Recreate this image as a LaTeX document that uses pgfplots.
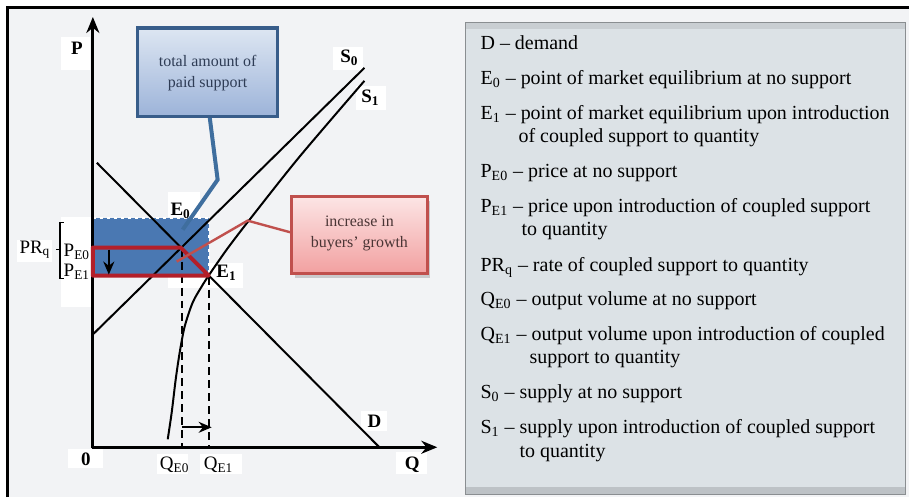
\documentclass[border=0pt]{standalone}
\usepackage{fontspec}
\setmainfont{Liberation Serif}
\usepackage{pgfplots}
\pgfplotsset{compat=1.18}
\usetikzlibrary{arrows.meta}
\definecolor{bgc}{HTML}{F2F3F5}
\definecolor{legbg}{HTML}{DCE2E6}
\definecolor{legbd}{HTML}{8A8E91}
\definecolor{legtop}{HTML}{C9CED2}
\definecolor{legbot}{HTML}{BDC2C6}
\definecolor{bluefill}{HTML}{4A78B2}
\definecolor{redline}{HTML}{B31F29}
\definecolor{bbord}{HTML}{385D8A}
\definecolor{btop}{HTML}{DDE6F2}
\definecolor{bbot}{HTML}{9CB3D9}
\definecolor{bptr}{HTML}{3F6E9E}
\definecolor{btext}{HTML}{2E3C55}
\definecolor{rbord}{HTML}{C0504D}
\definecolor{rtop}{HTML}{FCE5E5}
\definecolor{rbot}{HTML}{F2A0A0}
\definecolor{rtext}{HTML}{4A3535}
\newcommand{\lbl}{\fontsize{9.5}{11}\selectfont\bfseries}
\newcommand{\sml}{\fontsize{9.5}{11}\selectfont}
\newcommand{\call}{\fontsize{8}{10.5}\selectfont}
\newcommand{\legf}{\fontsize{10}{12}\selectfont}
\begin{document}
\begin{tikzpicture}
\begin{axis}[
  scale only axis, width=455pt, height=249pt,
  xmin=0, xmax=910, ymin=0, ymax=498, y dir=reverse,
  hide axis, clip=false,
]
% page and panel backgrounds
\addplot[fill=white, draw=none] coordinates {(0,0)(910,0)(910,498)(0,498)} -- cycle;
\addplot[fill=bgc, draw=none] coordinates {(8,8)(910,8)(910,498)(8,498)} -- cycle;
\addplot[black, line width=1.5pt] coordinates {(8,498)(8,8)(910,8)};
% legend box
\addplot[fill=legbg, draw=legbd, line width=0.6pt] coordinates {(466,23)(907,23)(907,495)(466,495)} -- cycle;
\addplot[fill=legtop, draw=none] coordinates {(466.5,23.5)(906.5,23.5)(906.5,29)(466.5,29)} -- cycle;
\addplot[fill=legbot, draw=none] coordinates {(466.5,488)(906.5,488)(906.5,494.5)(466.5,494.5)} -- cycle;
% white label backgrounds
\addplot[fill=white, draw=none] coordinates {(61,37)(90,37)(90,70)(61,70)} -- cycle;
\addplot[fill=white, draw=none] coordinates {(334,47)(364,47)(364,70)(334,70)} -- cycle;
\addplot[fill=white, draw=none] coordinates {(357,86)(387,86)(387,110)(357,110)} -- cycle;
\addplot[fill=white, draw=none] coordinates {(168,192)(200,192)(200,217)(168,217)} -- cycle;
\addplot[fill=white, draw=none] coordinates {(168,263)(243,263)(243,288)(168,288)} -- cycle;
\addplot[fill=white, draw=none] coordinates {(362,412)(388,412)(388,432)(362,432)} -- cycle;
\addplot[fill=white, draw=none] coordinates {(68,450)(103,450)(103,469)(68,469)} -- cycle;
\addplot[fill=white, draw=none] coordinates {(157,455)(188,455)(188,475)(157,475)} -- cycle;
\addplot[fill=white, draw=none] coordinates {(200,455)(242,455)(242,475)(200,475)} -- cycle;
\addplot[fill=white, draw=none] coordinates {(397,453)(428,453)(428,475)(397,475)} -- cycle;
\addplot[fill=white, draw=none] coordinates {(17,240)(52,240)(52,262)(17,262)} -- cycle;
\addplot[fill=white, draw=none] coordinates {(61,217)(91,217)(91,307)(61,307)} -- cycle;
% blue area: total amount of paid support
\addplot[fill=bluefill, draw=none] coordinates {(93,218)(209,218)(209,276)(93,276)} -- cycle;
\addplot[white, line width=0.9pt, dash pattern=on 1.5pt off 2pt] coordinates {(93,218)(209,218)(209,276)};
% dashed drop lines
\addplot[black, line width=1pt, dash pattern=on 4pt off 2.5pt] coordinates {(182,249)(182,447)};
\addplot[black, line width=1pt, dash pattern=on 4pt off 2.5pt] coordinates {(209,277)(209,447)};
% demand D
\addplot[black, line width=1pt] coordinates {(97,163)(380,448)};
% supply S0
\addplot[black, line width=1pt] coordinates {(93,335)(365,68)};
% supply S1
\addplot[black, line width=1pt, smooth] coordinates {(168,440)(172,413)(176,380)(180,353)(185,327)(193,303)(202,287)(209,276)(220,260)(230,246)(250,220)(300,157)(365,81)};
% axes
\addplot[black, line width=1.6pt, -{Stealth[length=8pt,width=6.5pt]}] coordinates {(93,449)(93,17)};
\addplot[black, line width=1.6pt, -{Stealth[length=8pt,width=6.5pt]}] coordinates {(92,448)(438,448)};
% red polygon: increase in buyers' growth
\addplot[redline, line width=2pt, line join=round] coordinates {(93,248)(181,248)(209,276)(93,276)} -- cycle;
% arrows
\addplot[black, line width=1pt, -{Stealth[length=6.5pt,width=5.5pt]}] coordinates {(109,250)(109,275)};
\addplot[black, line width=1pt, -{Stealth[length=6.5pt,width=5.5pt]}] coordinates {(182,428)(212,428)};
% bracket
\addplot[black, line width=0.6pt] coordinates {(64,223)(60,223)(60,279)(64,279)};
\addplot[black, line width=0.6pt] coordinates {(60,250)(56,250)};
% blue callout
\addplot[bptr, line width=2pt] coordinates {(210,117)(218,180)(183,230)};
\addplot[draw=bbord, line width=1.6pt, top color=btop, bottom color=bbot] coordinates {(138,28)(278,28)(278,117)(138,117)} -- cycle;
% red callout
\addplot[rbord, line width=1.2pt] coordinates {(292,233)(248,221)(177,262)};
\addplot[fill=gray, fill opacity=0.35, draw=none] coordinates {(295,201)(431,201)(431,278)(295,278)} -- cycle;
\addplot[draw=rbord, line width=1.5pt, top color=rtop, bottom color=rbot] coordinates {(292,197)(428,197)(428,274)(292,274)} -- cycle;
% callout texts
\node[font=\call, text=btext, align=center, inner sep=0pt] at (208,73) {total amount of\\paid support};
\node[font=\call, text=rtext, align=center, inner sep=0pt] at (360,234) {increase in\\buyers’ growth};
% plot labels
\node[font=\lbl, inner sep=0pt] at (77,48) {P};
\node[font=\lbl, inner sep=0pt] at (350,58) {S\textsubscript{0}};
\node[font=\lbl, inner sep=0pt] at (371,98) {S\textsubscript{1}};
\node[font=\lbl, inner sep=0pt] at (181,211) {E\textsubscript{0}};
\node[font=\lbl, inner sep=0pt] at (227,273) {E\textsubscript{1}};
\node[font=\lbl, inner sep=0pt] at (375,422) {D};
\node[font=\lbl, inner sep=0pt] at (86,460) {0};
\node[font=\lbl, inner sep=0pt] at (413,466) {Q};
\node[font=\sml, inner sep=0pt] at (175,466) {Q\textsubscript{E0}};
\node[font=\sml, inner sep=0pt] at (219,466) {Q\textsubscript{E1}};
\node[font=\sml, inner sep=0pt] at (35,250) {PR\textsubscript{q}};
\node[font=\sml, inner sep=0pt] at (77,252) {P\textsubscript{E0}};
\node[font=\sml, inner sep=0pt] at (77,272) {P\textsubscript{E1}};
% legend texts
\node[font=\legf, anchor=base west, inner sep=0pt] at (481,50) {D -- demand};
\node[font=\legf, anchor=base west, inner sep=0pt] at (481,85) {E\textsubscript{0} -- point of market equilibrium at no support};
\node[font=\legf, anchor=base west, inner sep=0pt] at (481,120) {E\textsubscript{1} -- point of market equilibrium upon introduction};
\node[font=\legf, anchor=base west, inner sep=0pt] at (519,143) {of coupled support to quantity};
\node[font=\legf, anchor=base west, inner sep=0pt] at (481,178) {P\textsubscript{E0} -- price at no support};
\node[font=\legf, anchor=base west, inner sep=0pt] at (481,213) {P\textsubscript{E1} -- price upon introduction of coupled support};
\node[font=\legf, anchor=base west, inner sep=0pt] at (522,236) {to quantity};
\node[font=\legf, anchor=base west, inner sep=0pt] at (481,272) {PR\textsubscript{q} -- rate of coupled support to quantity};
\node[font=\legf, anchor=base west, inner sep=0pt] at (481,306) {Q\textsubscript{E0} -- output volume at no support};
\node[font=\legf, anchor=base west, inner sep=0pt] at (481,341) {Q\textsubscript{E1} -- output volume upon introduction of coupled};
\node[font=\legf, anchor=base west, inner sep=0pt] at (530,364) {support to quantity};
\node[font=\legf, anchor=base west, inner sep=0pt] at (481,399) {S\textsubscript{0} -- supply at no support};
\node[font=\legf, anchor=base west, inner sep=0pt] at (481,434) {S\textsubscript{1} -- supply upon introduction of coupled support};
\node[font=\legf, anchor=base west, inner sep=0pt] at (520,458) {to quantity};
\end{axis}
\end{tikzpicture}
\end{document}
